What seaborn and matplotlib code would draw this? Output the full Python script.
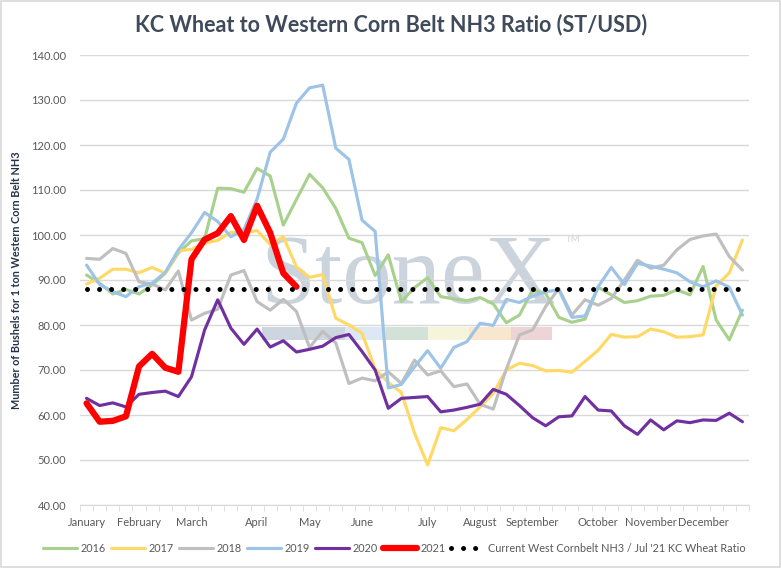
import numpy as np
import pandas as pd
import seaborn as sns
import matplotlib.pyplot as plt
from matplotlib.patches import Rectangle

# weekly categories (51), month names shown at the first week of each month
n_weeks = 51
month_pos = [0, 4, 8, 13, 17, 21, 26, 30, 34, 39, 43, 47]
month_names = ["January", "February", "March", "April", "May", "June",
               "July", "August", "September", "October", "November", "December"]

y2016 = [91.1, 89.3, 86.9, 87.9, 86.9, 88.9, 91.5, 96.0, 98.7, 99.2,
         110.4, 110.3, 109.5, 114.8, 113.1, 102.2, 107.9, 113.5, 110.5, 105.9,
         99.3, 98.3, 91.0, 95.6, 85.2, 88.3, 90.5, 86.3, 85.8, 85.4,
         86.1, 84.7, 80.5, 82.2, 87.8, 87.0, 81.7, 80.6, 81.3, 88.4,
         86.7, 85.0, 85.4, 86.4, 86.6, 87.8, 86.7, 93.0, 81.1, 76.7, 83.3]
y2017 = [89.1, 90.4, 92.4, 92.4, 91.6, 92.8, 91.5, 96.5, 96.8, 98.2,
         98.8, 100.6, 100.4, 101.0, 97.9, 99.6, 92.9, 90.6, 91.2, 81.5,
         80.0, 78.2, 70.2, 67.2, 65.0, 56.0, 48.9, 57.2, 56.5, 59.0,
         61.8, 64.8, 70.0, 71.5, 71.0, 69.8, 69.9, 69.5, 71.9, 74.4,
         77.9, 77.3, 77.4, 79.1, 78.5, 77.3, 77.4, 77.8, 88.7, 91.6, 98.9]
y2018 = [94.8, 94.6, 97.0, 95.9, 89.6, 89.1, 87.8, 92.0, 81.1, 82.6,
         83.5, 91.1, 92.1, 85.2, 83.3, 85.7, 83.0, 75.0, 78.6, 76.0,
         67.0, 68.2, 67.6, 69.6, 67.0, 72.2, 68.9, 69.8, 66.3, 66.9,
         62.4, 61.3, 70.2, 77.8, 78.9, 84.1, 88.1, 82.2, 85.6, 84.4,
         85.9, 90.0, 94.4, 92.6, 93.3, 96.7, 99.0, 99.8, 100.2, 95.2, 92.2]
y2019 = [93.3, 89.0, 87.4, 86.3, 88.5, 89.3, 91.7, 96.7, 100.5, 105.0,
         103.0, 99.6, 101.2, 108.0, 118.4, 121.3, 129.3, 132.7, 133.3, 119.3,
         116.8, 103.3, 100.8, 66.0, 66.8, 70.7, 74.3, 70.4, 75.0, 76.3,
         80.4, 79.9, 85.7, 85.0, 86.4, 87.4, 87.8, 81.7, 82.0, 88.5,
         92.8, 89.0, 93.7, 93.1, 92.4, 91.6, 89.6, 88.5, 89.8, 88.4, 82.2]
y2020 = [63.7, 62.1, 62.7, 61.8, 64.6, 65.0, 65.3, 64.1, 68.5, 78.9,
         85.6, 79.3, 75.7, 79.1, 75.1, 76.5, 74.0, 74.6, 75.3, 77.2,
         77.9, 74.1, 70.0, 61.5, 63.7, 63.9, 64.1, 60.7, 61.1, 61.7,
         62.4, 65.7, 64.6, 62.1, 59.4, 57.6, 59.6, 59.8, 64.1, 61.1,
         60.9, 57.6, 55.7, 58.9, 56.7, 58.7, 58.3, 58.9, 58.8, 60.4, 58.5]
y2021 = [62.6, 58.5, 58.7, 59.7, 70.8, 73.6, 70.5, 69.6, 94.6, 99.0,
         100.4, 104.2, 98.9, 106.5, 100.5, 91.5, 88.5]
current_ratio = 88.0

series = [
    ("2016", y2016, "#A9D18E", 2.25),
    ("2017", y2017, "#FFD966", 2.25),
    ("2018", y2018, "#BFBFBF", 2.25),
    ("2019", y2019, "#9DC3E6", 2.25),
    ("2020", y2020, "#7030A0", 2.25),
    ("2021", y2021, "#FF0000", 4.5),
]
ratio_label = "Current West Cornbelt NH3 / Jul '21 KC Wheat Ratio"

txt = "#595959"
grid = "#D9D9D9"
plt.rcParams["font.family"] = ["Lato", "DejaVu Sans"]

fig = plt.figure(figsize=(7.82, 5.68), dpi=100)
ax = fig.add_axes([80 / 782, 1 - 505 / 568, 669 / 782, 450 / 568])

# chart border
fig.add_artist(Rectangle((0.001, 0.001), 0.997, 0.997, transform=fig.transFigure,
                         fill=False, edgecolor=grid, linewidth=1.2))

# StoneX watermark
fig.text(260 / 782, 1 - 303 / 568, "StoneX", fontsize=71, family="Liberation Serif",
         color="#CBD3DC", ha="left", va="baseline", zorder=0.5)
fig.text(566 / 782, 1 - 242 / 568, "TM", fontsize=7, color="#CBD3DC",
         ha="left", va="baseline", zorder=0.5)
bar_cols = ["#CDD5DF", "#CDD5DF", "#DCE8F3", "#D3E2D6", "#F7F4DC", "#F8E6CF", "#EFD4D7"]
seg_w = (552 - 262) / len(bar_cols)
for k, c in enumerate(bar_cols):
    fig.add_artist(Rectangle(((262 + k * seg_w) / 782, 1 - 340 / 568), seg_w / 782,
                             13 / 568, transform=fig.transFigure, color=c,
                             linewidth=0, zorder=0.5))
ax.set_zorder(1)
ax.patch.set_alpha(0)

weeks = np.arange(n_weeks)
for name, vals, col, lw in series:
    sns.lineplot(x=weeks[:len(vals)], y=vals, ax=ax, color=col, linewidth=lw,
                 label=name, solid_capstyle="round", solid_joinstyle="round")

sns.lineplot(x=weeks, y=[current_ratio] * n_weeks, ax=ax, color="black",
             linewidth=3.6, linestyle=(0, (0.01, 2.4)), dash_capstyle="round",
             label=ratio_label)

ax.set_xlim(-0.5, n_weeks - 0.5)
ax.set_ylim(40, 140)
ax.set_yticks(np.arange(40, 141, 10))
ax.set_yticklabels([f"{v:.2f}" for v in np.arange(40, 141, 10)], color=txt, fontsize=8)
ax.tick_params(axis="y", length=0, pad=10)
ax.grid(axis="y", color=grid, linewidth=1)
ax.set_axisbelow(True)

ax.set_xticks(month_pos)
ax.set_xticklabels(month_names, color=txt, fontsize=8)
ax.set_xticks(np.arange(-0.5, n_weeks, 1), minor=True)
ax.tick_params(axis="x", which="major", length=0, pad=9)
ax.tick_params(axis="x", which="minor", length=4, color=grid, direction="out")

for s in ["top", "right", "left"]:
    ax.spines[s].set_visible(False)
ax.spines["bottom"].set_color(grid)
ax.set_xlabel("")
ax.set_ylabel("Mumber of Bushels for 1 ton Western Corn Belt NH3", fontsize=7.8,
              fontweight="bold", color="#263248", labelpad=6)
ax.yaxis.set_label_coords(-58 / 669, 0.5)

fig.suptitle("KC Wheat to Western Corn Belt NH3 Ratio (ST/USD)", x=0.5, y=1 - 25 / 568,
             va="center", fontsize=15.5, fontweight="bold", color="#3F4A5A")

handles, labels = ax.get_legend_handles_labels()
ax.get_legend().remove()
fig.legend(handles, labels, loc="center", bbox_to_anchor=(0.5045, 1 - 548 / 568),
           ncol=7, frameon=False, fontsize=7.8, labelcolor=txt, handlelength=3.1,
           handletextpad=0.3, columnspacing=0.55)

fig.savefig("out.png", dpi=100)
